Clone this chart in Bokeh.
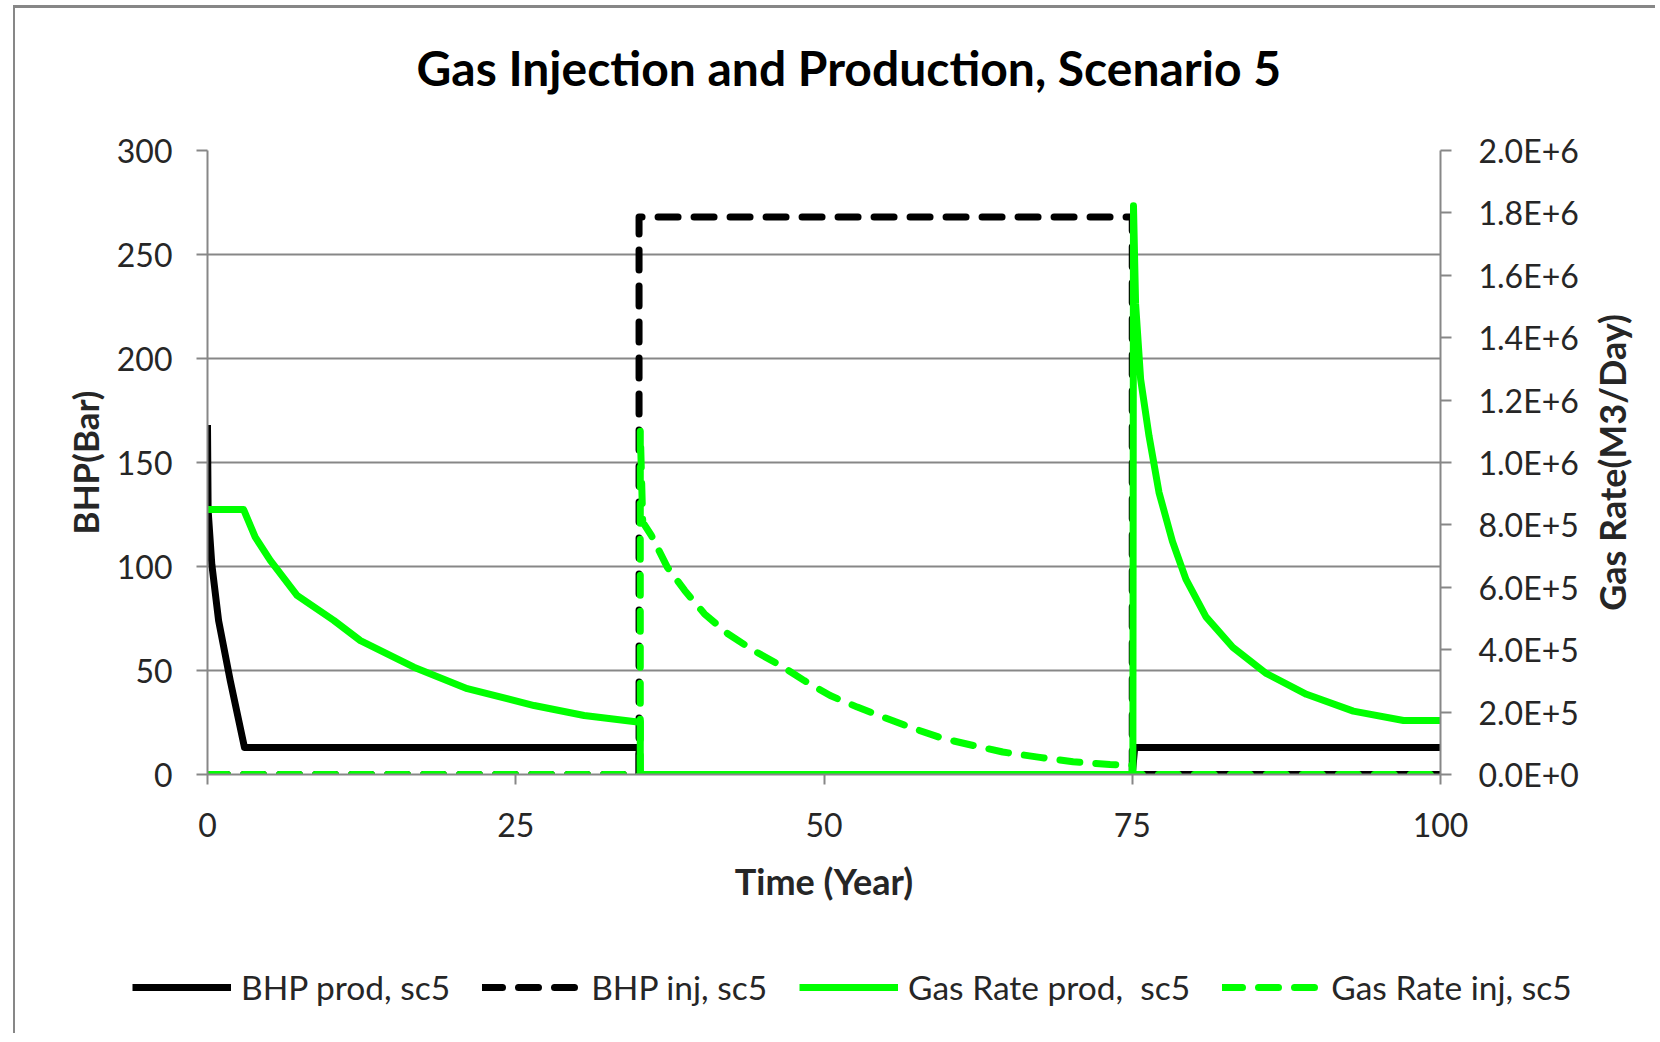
from bokeh.plotting import figure
from bokeh.layouts import column, row
from bokeh.models import (Range1d, LinearAxis, FixedTicker, CustomJSTickFormatter,
                          Legend, LegendItem)
from bokeh.embed import file_html
from bokeh.resources import INLINE

# ---------------- data ----------------
title_text = "Gas Injection and Production, Scenario 5"
x_label = "Time (Year)"
y_label_left = "BHP(Bar)"
y_label_right = "Gas Rate(M3/Day)"

x_ticks = [0, 25, 50, 75, 100]
bhp_ticks = [0, 50, 100, 150, 200, 250, 300]
rate_ticks = [0, 200000, 400000, 600000, 800000, 1000000, 1200000,
              1400000, 1600000, 1800000, 2000000]

series_labels = ["BHP prod, sc5", "BHP inj, sc5", "Gas Rate prod,  sc5", "Gas Rate inj, sc5"]

# BHP production (Bar)
bhp_prod_t = [0, 0.05, 0.35, 0.9, 1.85, 3.0, 35.0, 35.0, 75.0, 75.2, 100]
bhp_prod_v = [168, 127, 101, 74, 45, 13, 13, 0, 0, 13, 13]

# BHP injection (Bar)
bhp_inj_t = [0, 35.0, 35.0, 75.0, 75.0, 100]
bhp_inj_v = [0, 0, 268, 268, 0, 0]

# Gas rate production (M3/Day)
gas_prod_t = [0, 2.93, 3.87, 5.09, 7.26, 10.24, 12.4, 16.74, 21.07, 26.49, 30.55, 34.89,
              35.1, 35.1, 75.05, 75.1, 75.27, 75.68, 76.36, 77.17, 78.26, 79.35, 80.98,
              83.15, 85.87, 89.13, 92.93, 97.0, 100]
gas_prod_v = [849000, 849000, 761000, 686000, 574000, 494000, 429000, 344000, 275000,
              221000, 189000, 168000, 168000, 0, 0, 1823000, 1510000, 1267000, 1085000,
              904000, 747000, 626000, 505000, 408000, 324000, 257000, 203000, 173000, 173000]

# Gas rate injection (M3/Day)
gas_inj_t = [0, 35.1, 35.1, 35.3, 36.0, 37.3, 38.7, 40.3, 42.2, 44.3, 46.5, 48.4, 50.5,
             52.7, 54.8, 57.3, 59.7, 62.1, 64.5, 67.5, 70.2, 73.2, 74.5, 75.0, 75.0, 100]
gas_inj_v = [0, 0, 1100000, 809000, 766000, 664000, 590000, 515000, 451000, 397000,
             349000, 301000, 253000, 216000, 184000, 147000, 115000, 93000, 72000, 55000,
             41000, 32000, 30000, 30000, 0, 0]

# ---------------- styling ----------------
FONT = "Lato"
GRAY = "#878787"
TXT = "#262626"
GREEN = "#00FF00"
LW = 7
DASH = "20 16"


def blank_strip(width, height, **kw):
    f = figure(width=width, height=height, output_backend="svg", toolbar_location=None,
               x_range=Range1d(0, 100), y_range=Range1d(-2, -1),
               x_axis_type=None, y_axis_type=None,
               min_border_left=0, min_border_right=0, min_border_top=0,
               min_border_bottom=kw.pop("min_border_bottom", 0), **kw)
    f.outline_line_color = None
    return f


# title strip
tp = blank_strip(1640, 122, title=title_text)
tp.title.align = "left"
tp.title.offset = 401
tp.title.standoff = 70
tp.title.text_font = FONT
tp.title.text_font_size = "48px"
tp.title.text_font_style = "bold"
tp.title.text_color = "black"

# main chart
p = figure(width=1572, height=804, output_backend="svg", toolbar_location=None,
           title=None, x_range=Range1d(0, 100), y_range=Range1d(0, 300),
           min_border_left=192, min_border_right=147, min_border_top=20,
           min_border_bottom=160)
p.extra_y_ranges = {"rate": Range1d(0, 2000000)}
xa = p.below[0]
ya = p.left[0]

p.outline_line_color = None
p.xgrid.visible = False
p.ygrid.grid_line_color = GRAY
p.ygrid.grid_line_width = 2


def style_axis(ax):
    ax.axis_line_color = GRAY
    ax.axis_line_width = 2
    ax.major_tick_line_color = GRAY
    ax.major_tick_line_width = 2
    ax.major_tick_in = 0
    ax.major_tick_out = 11
    ax.minor_tick_line_color = None
    ax.major_label_text_font = FONT
    ax.major_label_text_font_size = "32px"
    ax.major_label_text_color = TXT
    ax.axis_label_text_font = FONT
    ax.axis_label_text_font_size = "36px"
    ax.axis_label_text_font_style = "bold"
    ax.axis_label_text_color = TXT


xa.ticker = FixedTicker(ticks=x_ticks)
xa.axis_label = x_label
style_axis(xa)
xa.major_tick_out = 10
xa.major_label_standoff = 28
xa.axis_label_standoff = 19

ya.ticker = FixedTicker(ticks=bhp_ticks)
ya.axis_label = y_label_left
style_axis(ya)
ya.axis_label_text_font_size = "35px"
ya.major_label_standoff = 24
ya.axis_label_standoff = 8

ra = LinearAxis(y_range_name="rate", ticker=FixedTicker(ticks=rate_ticks),
                formatter=CustomJSTickFormatter(code="return tick.toExponential(1).replace('e', 'E');"))
style_axis(ra)
ra.major_label_standoff = 27
p.add_layout(ra, "right")

line_styles = [dict(line_color="black", line_width=LW, line_join="round"),
               dict(line_color="black", line_width=LW, line_dash=DASH, line_cap="round", line_join="round"),
               dict(line_color=GREEN, line_width=LW, line_join="round"),
               dict(line_color=GREEN, line_width=LW, line_dash=DASH, line_cap="round", line_join="round")]
series_data = [(bhp_prod_t, bhp_prod_v, "default"), (bhp_inj_t, bhp_inj_v, "default"),
               (gas_prod_t, gas_prod_v, "rate"), (gas_inj_t, gas_inj_v, "rate")]

for (t, v, rng), st in zip(series_data, line_styles):
    p.line(t, v, y_range_name=rng, **st)

# right axis title (reads bottom-to-top) as a left-side title of a narrow strip
rp = blank_strip(68, 804, title=y_label_right, title_location="left", min_border_bottom=142)
rp.title.align = "center"
rp.title.vertical_align = "bottom"
rp.title.standoff = 0
rp.title.text_font = FONT
rp.title.text_font_size = "36px"
rp.title.text_font_style = "bold"
rp.title.text_color = TXT

# legend strip below the chart (its sample lines lie outside the strip's visible range)
lp = blank_strip(1640, 99)
legend_renderers = [lp.line(t, v, **st) for (t, v, rng), st in zip(series_data, line_styles)]
legend = Legend(items=[LegendItem(label=lab, renderers=[r])
                       for lab, r in zip(series_labels, legend_renderers)],
                orientation="horizontal", location=(117, 26),
                glyph_width=99, glyph_height=30, label_standoff=10, spacing=32,
                border_line_color=None, background_fill_alpha=0,
                label_text_font=FONT, label_text_font_size="33.5px", label_text_color=TXT,
                padding=0, margin=0)
lp.add_layout(legend, "center")

layout = column(tp, row(p, rp), lp, margin=(5, 0, 0, 13),
                styles={"border-left": "2px solid #878787", "border-top": "3px solid #878787"})

open("out.html", "w").write(file_html(layout, INLINE))
